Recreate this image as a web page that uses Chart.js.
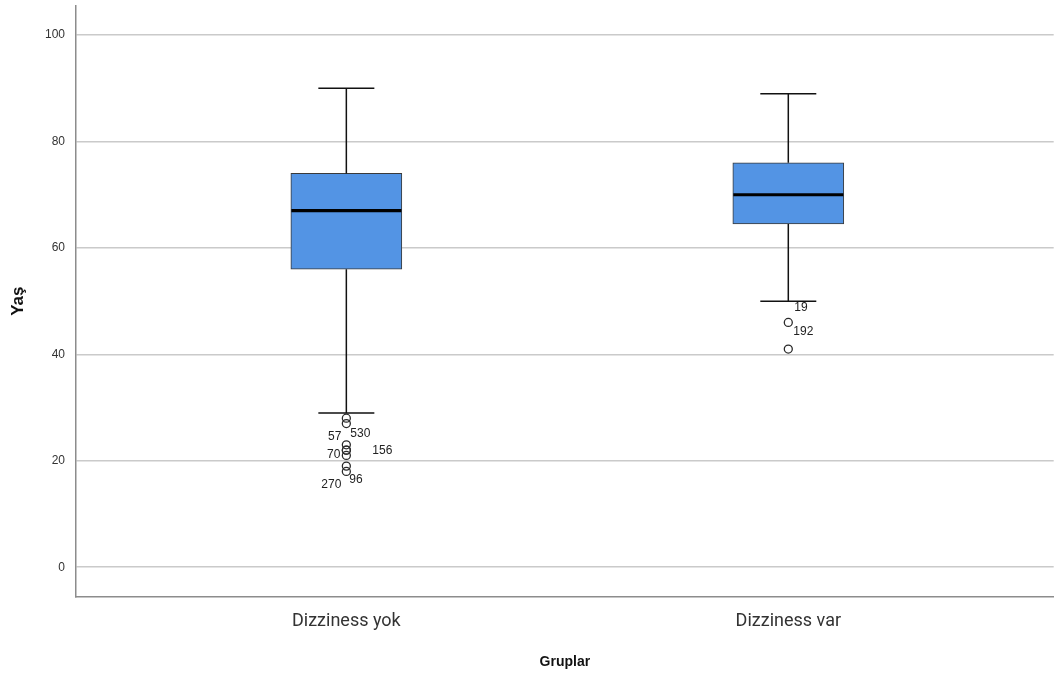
<!DOCTYPE html>
<html>
<head>
<meta charset="utf-8">
<script src="https://cdn.jsdelivr.net/npm/chart.js@4.4.1/dist/chart.umd.min.js"></script>
<style>
  html, body { margin:0; padding:0; background:#fff; }
  #wrap { width:1059px; height:679px; position:relative; }
</style>
</head>
<body>
<div id="wrap"><canvas id="box-chart"></canvas></div>
<script>
// grup / kutu degerleri
const groups     = ['Dizziness yok', 'Dizziness var'];
const whiskerLow = [29, 50];
const q1         = [56, 64.5];
const median     = [67, 70];
const q3         = [74, 76];
const whiskerHigh= [90, 89];
const outlierVals1 = [28, 27, 23, 22, 22, 21, 19, 18];
const outlierLbls1 = ['530', '57', '156', '70', '', '', '96', '270'];
const outlierVals2 = [46, 41];
const outlierLbls2 = ['19', '192'];
const yTicks = [0, 20, 40, 60, 80, 100];

// etiket kaydirmalari (px) — SPSS gibi
const lblOffsets1 = [[4,15,'left'],[-5,13,'right'],[26,6,'left'],[-6,5,'right'],null,null,[3,14,'left'],[-5,13,'right']];
const lblOffsets2 = [[6,-15,'left'],[5,-17,'left']];

const boxData = groups.map((g, i) => ({ x: i + 1, y: [q1[i], q3[i]] }));
const outData = [
  ...outlierVals1.map(v => ({ x: 1, y: v })),
  ...outlierVals2.map(v => ({ x: 2, y: v }))
];

const boxPlugin = {
  id: 'boxParts',
  afterDatasetsDraw(chart) {
    const { ctx, scales: { x, y } } = chart;
    ctx.save();
    groups.forEach((g, i) => {
      const cx = x.getPixelForValue(i + 1);
      const capW = 28;
      ctx.strokeStyle = '#111';
      ctx.lineWidth = 1.5;
      ctx.beginPath();
      ctx.moveTo(cx, y.getPixelForValue(q3[i]));
      ctx.lineTo(cx, y.getPixelForValue(whiskerHigh[i]));
      ctx.moveTo(cx, y.getPixelForValue(q1[i]));
      ctx.lineTo(cx, y.getPixelForValue(whiskerLow[i]));
      ctx.moveTo(cx - capW, y.getPixelForValue(whiskerHigh[i]));
      ctx.lineTo(cx + capW, y.getPixelForValue(whiskerHigh[i]));
      ctx.moveTo(cx - capW, y.getPixelForValue(whiskerLow[i]));
      ctx.lineTo(cx + capW, y.getPixelForValue(whiskerLow[i]));
      ctx.stroke();
      // median
      ctx.strokeStyle = '#000';
      ctx.lineWidth = 3.2;
      ctx.beginPath();
      ctx.moveTo(cx - 55, y.getPixelForValue(median[i]));
      ctx.lineTo(cx + 55, y.getPixelForValue(median[i]));
      ctx.stroke();
    });
    // aykiri deger etiketleri
    ctx.font = '12px "Liberation Sans", Arial, sans-serif';
    ctx.fillStyle = '#222';
    ctx.textBaseline = 'middle';
    const drawLbls = (vals, lbls, offs, gx) => {
      const cx = x.getPixelForValue(gx);
      vals.forEach((v, k) => {
        if (!lbls[k] || !offs[k]) return;
        ctx.textAlign = offs[k][2];
        ctx.fillText(lbls[k], cx + offs[k][0], y.getPixelForValue(v) + offs[k][1]);
      });
    };
    drawLbls(outlierVals1, outlierLbls1, lblOffsets1, 1);
    drawLbls(outlierVals2, outlierLbls2, lblOffsets2, 2);
    ctx.restore();
  }
};

new Chart(document.getElementById('box-chart'), {
  type: 'bar',
  data: {
    datasets: [
      {
        type: 'bar',
        data: boxData,
        backgroundColor: '#5394e4',
        borderColor: '#3a3a3a',
        borderWidth: 1,
        borderSkipped: false,
        barThickness: 111
      },
      {
        type: 'scatter',
        data: outData,
        pointStyle: 'circle',
        pointRadius: 4,
        pointBackgroundColor: 'rgba(0,0,0,0)',
        pointBorderColor: '#2a2a2a',
        pointBorderWidth: 1.3
      }
    ]
  },
  options: {
    responsive: true,
    maintainAspectRatio: false,
    animation: false,
    layout: { padding: { left: 0, right: 0, top: 5, bottom: 0 } },
    plugins: { legend: { display: false }, tooltip: { enabled: false } },
    scales: {
      x: {
        type: 'linear',
        offset: false,
        min: 0.3883, max: 2.6005,
        afterBuildTicks: s => { s.ticks = groups.map((g, i) => ({ value: i + 1 })); },
        afterFit: s => { s.height = 82; s.paddingLeft = 0; s.paddingRight = 0; },
        grid: { display: false, drawTicks: false },
        border: { display: true, color: '#8c8c8c', width: 1.5 },
        ticks: {
          padding: 14,
          color: '#333',
          font: { family: 'Roboto', size: 18 },
          callback: v => groups[v - 1]
        },
        title: {
          display: true, text: 'Gruplar', color: '#111',
          font: { family: '"Liberation Sans", Arial', size: 14, weight: 'bold' },
          padding: { top: 4, bottom: 8 }
        }
      },
      y: {
        min: -5.6, max: 105.6,
        afterBuildTicks: s => { s.ticks = yTicks.map(v => ({ value: v })); },
        afterFit: s => { s.width = 76; s.paddingTop = 0; s.paddingBottom = 0; },
        grid: { color: '#cacaca', lineWidth: 1.5, drawTicks: false },
        border: { display: true, color: '#8c8c8c', width: 1.5 },
        ticks: {
          padding: 11,
          color: '#333',
          font: { family: '"Liberation Sans", Arial', size: 12 }
        },
        title: {
          display: true, text: 'Yaş', color: '#111',
          font: { family: '"Liberation Sans", Arial', size: 17, weight: 'bold' },
          padding: { top: 8, bottom: 4 }
        }
      }
    }
  },
  plugins: [boxPlugin]
});
</script>
</body>
</html>
